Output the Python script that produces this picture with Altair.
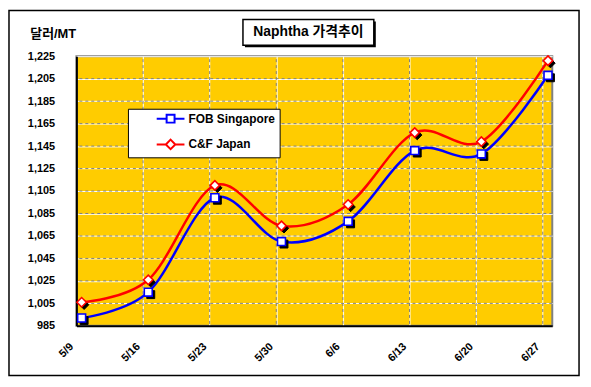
import altair as alt
import pandas as pd

# ---- data ----
dates = ["5/9", "5/16", "5/23", "5/30", "6/6", "6/13", "6/20", "6/27"]
day_index = [0, 7, 14, 21, 28, 35, 42, 49]
fob_singapore = [992, 1015, 1099, 1060, 1078, 1141, 1138, 1208]
cnf_japan = [1006, 1026, 1110, 1074, 1093, 1157, 1149, 1221]
series = ["FOB Singapore", "C&F Japan"]
colors = ["#0000FF", "#FF0000"]
marker_shapes = ["square", "diamond"]
legend_paths = [
    "M-3.5,0H-1M1,0H3.5M-1,-1H1V1H-1Z",
    "M-3.5,0H-1.2M1.2,0H3.5M0,-1.2L1.2,0L0,1.2L-1.2,0Z",
]
y_ticks = list(range(985, 1226, 20))
point_shift = 0.55

FONT = "'Liberation Sans', 'Noto Sans CJK KR', sans-serif"

rows = []
for i, d in enumerate(dates):
    rows.append({"date": d, "day": day_index[i] + point_shift, "series": series[0],
                 "value": fob_singapore[i], "order": i})
    rows.append({"date": d, "day": day_index[i] + point_shift, "series": series[1],
                 "value": cnf_japan[i], "order": i})
df = pd.DataFrame(rows)

label_expr = "[" + ",".join(f"'{d}'" for d in dates) + "][indexof([" + \
    ",".join(str(v) for v in day_index) + "], datum.value)]"

x_axis = alt.Axis(values=day_index, labelExpr=label_expr, title=None,
                  grid=True, gridColor="white", gridWidth=1,
                  domainColor="black", domainWidth=2, ticks=False,
                  labelAngle=-45, labelAlign="right", labelBaseline="middle",
                  labelPadding=19, labelOffset=-5, labelFont=FONT, labelFontSize=11,
                  labelFontWeight="bold", labelColor="black")
y_axis = alt.Axis(values=y_ticks, format=",d", title="달러/MT",
                  titleAngle=0, titleX=-47, titleY=-23, titleAlign="left",
                  titleBaseline="middle", titleFont=FONT, titleFontSize=13,
                  titleFontWeight="bold", titleColor="black",
                  grid=True, gridColor="white", gridWidth=1,
                  domainColor="black", domainWidth=2, ticks=False,
                  labelAlign="right", labelPadding=22, labelFont=FONT, labelFontSize=11,
                  labelFontWeight="bold", labelColor="black")
x_scale = alt.Scale(domain=[0, 50], nice=False, zero=False)
y_scale = alt.Scale(domain=[985, 1225], nice=False, zero=False)
x_enc = alt.X("day:Q", scale=x_scale, axis=x_axis)
y_enc = alt.Y("value:Q", scale=y_scale, axis=y_axis)

base = alt.Chart(df).encode(x=x_enc, y=y_enc)

# gray dashed gridlines on top of the white grid
hgrid = alt.Chart(pd.DataFrame({"value": y_ticks[1:-1]})).mark_rule(
    color="#808080", strokeDash=[3, 3], strokeWidth=1).encode(y=y_enc)
vgrid = alt.Chart(pd.DataFrame({"day": day_index[1:]})).mark_rule(
    color="#808080", strokeDash=[3, 3], strokeWidth=1, strokeDashOffset=3).encode(x=x_enc)

layers = [hgrid, vgrid]
for s, c in zip(series, colors):
    layers.append(base.transform_filter(alt.datum.series == s).mark_line(
        interpolate="cardinal", strokeWidth=2.5, color=c).encode(order="order:Q"))

for s, c, shp in zip(series, colors, marker_shapes):
    size = 64 if shp == "square" else 90
    shadow = base.transform_filter(alt.datum.series == s).mark_point(
        shape=shp, filled=True, fill="black", stroke="black", strokeWidth=1,
        size=size, xOffset=2.5, yOffset=2.5, opacity=1)
    marker = base.transform_filter(alt.datum.series == s).mark_point(
        shape=shp, filled=False, fill="white", stroke=c, strokeWidth=1.6,
        size=size, opacity=1, fillOpacity=1)
    layers += [shadow, marker]

legend_props = dict(orient="none", legendX=52, legendY=53, title=None,
                    fillColor="white", strokeColor="black", padding=4,
                    symbolSize=64, symbolStrokeWidth=2, symbolOffset=33,
                    labelOffset=12, labelFont=FONT, labelFontSize=12,
                    labelFontWeight="bold", labelColor="black", rowPadding=9)
legend_layer = base.transform_filter("false").mark_point(
    filled=False, fill="white", strokeWidth=2, opacity=1).encode(
    shape=alt.Shape("series:N", scale=alt.Scale(domain=series, range=legend_paths),
                    legend=alt.Legend(**legend_props)),
    stroke=alt.Stroke("series:N", scale=alt.Scale(domain=series, range=colors),
                      legend=alt.Legend(**legend_props)))
layers.append(legend_layer)

one = alt.Chart(pd.DataFrame({"a": [0]}))
title_shadow = one.mark_rect(fill="black").encode(
    x=alt.value(170), x2=alt.value(302), y=alt.value(-35), y2=alt.value(-9))
title_box = one.mark_rect(fill="white", stroke="black", strokeWidth=1.5).encode(
    x=alt.value(168), x2=alt.value(300), y=alt.value(-37), y2=alt.value(-11))
title_text = one.mark_text(text="Naphtha 가격추이", font=FONT, fontSize=14,
                           fontWeight="bold", align="center", baseline="middle",
                           color="black").encode(x=alt.value(234), y=alt.value(-24))
border = one.mark_rect(fillOpacity=0, stroke="black", strokeWidth=1.5).encode(
    x=alt.value(-68), x2=alt.value(507), y=alt.value(-46), y2=alt.value(322))
layers += [title_shadow, title_box, title_text, border]

chart = alt.layer(*layers).properties(
    width=480, height=272,
    padding={"left": 69, "top": 47, "right": 31, "bottom": 53},
    autosize=alt.AutoSizeParams(type="none"),
    background="white",
).configure_view(fill="#FFCC00", stroke="#808080", strokeWidth=2)

chart.save("out.html", embed_options={"renderer": "svg", "actions": False})
